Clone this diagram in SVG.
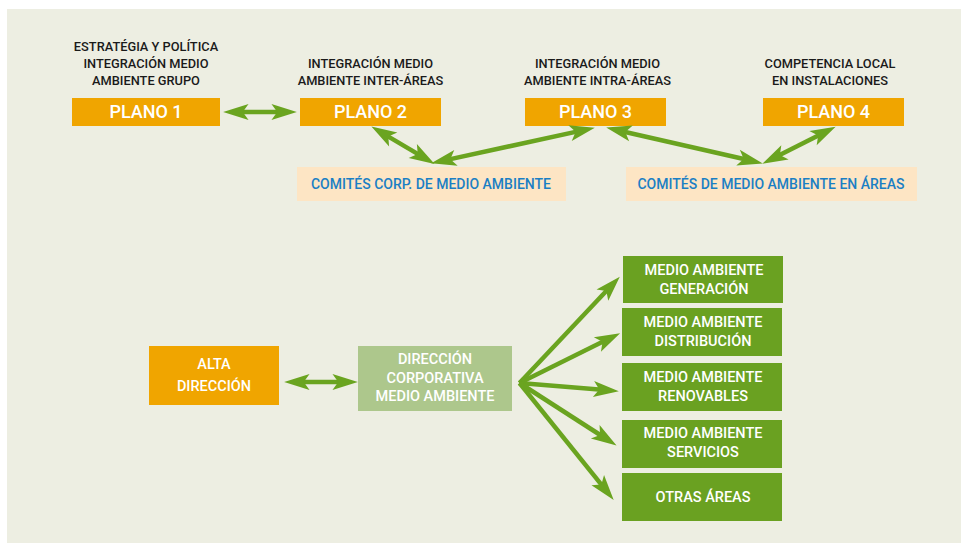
<svg xmlns="http://www.w3.org/2000/svg" width="961" height="543" viewBox="0 0 961 543">
  <style>
    text { font-family: Roboto, "Liberation Sans", Arial, sans-serif; font-weight: 500; text-anchor: middle; }
    .lbl { font-size: 12.8px; fill: #1a1a1a; }
    .plano { fill: #f0a500; }
    .ptxt { font-size: 18px; fill: #ffffff; }
    .com { fill: #fde5c4; }
    .ctxt { font-size: 14px; fill: #1b7fc4; }
    .wtxt { font-size: 14.5px; fill: #ffffff; }
    .area { fill: #6aa121; }
    .conn { stroke: #6aa420; stroke-width: 4.5; fill: none; }
  </style>
  <defs>
    <marker id="ah" markerUnits="userSpaceOnUse" markerWidth="30" markerHeight="20" viewBox="-12 -8 26 16" refX="0" refY="0" orient="auto-start-reverse">
      <path d="M12,0 L-10,-7 L-5,0 L-10,7 Z" fill="#6aa420"/>
    </marker>
  </defs>
  <rect x="7" y="9" width="954" height="534" fill="#edeee2"/>

  <g id="plano1">
    <text class="lbl" x="146" y="51">ESTRATÉGIA Y POLÍTICA</text>
    <text class="lbl" x="146" y="68">INTEGRACIÓN MEDIO</text>
    <text class="lbl" x="146" y="85">AMBIENTE GRUPO</text>
    <rect class="plano" x="72" y="98" width="148" height="28"/>
    <text class="ptxt" x="146" y="117.5">PLANO 1</text>
  </g>
  <g id="plano2">
    <text class="lbl" x="370.5" y="68">INTEGRACIÓN MEDIO</text>
    <text class="lbl" x="370.5" y="85">AMBIENTE INTER-ÁREAS</text>
    <rect class="plano" x="300" y="98" width="141" height="28"/>
    <text class="ptxt" x="370.5" y="117.5">PLANO 2</text>
  </g>
  <g id="plano3">
    <text class="lbl" x="597.5" y="68">INTEGRACIÓN MEDIO</text>
    <text class="lbl" x="597.5" y="85">AMBIENTE INTRA-ÁREAS</text>
    <rect class="plano" x="525" y="98" width="141" height="28"/>
    <text class="ptxt" x="595.5" y="117.5">PLANO 3</text>
  </g>
  <g id="plano4">
    <text class="lbl" x="830" y="68">COMPETENCIA LOCAL</text>
    <text class="lbl" x="830" y="85">EN INSTALACIONES</text>
    <rect class="plano" x="763" y="98" width="141" height="28"/>
    <text class="ptxt" x="833.5" y="117.5">PLANO 4</text>
  </g>
  <g id="comites-corp">
    <rect class="com" x="297" y="167" width="269" height="34"/>
    <text class="ctxt" x="431" y="188.5">COMITÉS CORP. DE MEDIO AMBIENTE</text>
  </g>
  <g id="comites-areas">
    <rect class="com" x="626" y="167" width="291" height="34"/>
    <text class="ctxt" x="771" y="188.5">COMITÉS DE MEDIO AMBIENTE EN ÁREAS</text>
  </g>

  <g id="alta-direccion">
    <rect class="plano" x="149" y="346" width="130" height="59"/>
    <text class="wtxt" x="214" y="369">ALTA</text>
    <text class="wtxt" x="214" y="390.5">DIRECCIÓN</text>
  </g>
  <g id="direccion-corporativa">
    <rect x="358" y="346" width="154" height="65" fill="#adc78c"/>
    <text class="wtxt" x="435" y="364">DIRECCIÓN</text>
    <text class="wtxt" x="435" y="382.5">CORPORATIVA</text>
    <text class="wtxt" x="435" y="400.5">MEDIO AMBIENTE</text>
  </g>
  <g id="ma-generacion">
    <rect class="area" x="623" y="256" width="160" height="47"/>
    <text class="wtxt" x="704" y="275">MEDIO AMBIENTE</text>
    <text class="wtxt" x="704" y="294">GENERACIÓN</text>
  </g>
  <g id="ma-distribucion">
    <rect class="area" x="622" y="308" width="160" height="48"/>
    <text class="wtxt" x="703" y="327.3">MEDIO AMBIENTE</text>
    <text class="wtxt" x="703" y="346">DISTRIBUCIÓN</text>
  </g>
  <g id="ma-renovables">
    <rect class="area" x="622" y="363" width="160" height="48"/>
    <text class="wtxt" x="703" y="382.3">MEDIO AMBIENTE</text>
    <text class="wtxt" x="703" y="400.7">RENOVABLES</text>
  </g>
  <g id="ma-servicios">
    <rect class="area" x="622" y="420" width="160" height="48"/>
    <text class="wtxt" x="703" y="438.3">MEDIO AMBIENTE</text>
    <text class="wtxt" x="703" y="456.7">SERVICIOS</text>
  </g>
  <g id="otras-areas">
    <rect class="area" x="622" y="473" width="160" height="48"/>
    <text class="wtxt" x="703" y="501.7">OTRAS ÁREAS</text>
  </g>

  <g id="connectors">
    <line class="conn" x1="237" y1="112" x2="283" y2="112" marker-start="url(#ah)" marker-end="url(#ah)"/>
    <line class="conn" x1="383.3" y1="133.6" x2="422.7" y2="156.9" marker-start="url(#ah)" marker-end="url(#ah)"/>
    <line class="conn" x1="444.7" y1="160.4" x2="581.3" y2="130.6" marker-start="url(#ah)" marker-end="url(#ah)"/>
    <line class="conn" x1="619.7" y1="130.7" x2="749.3" y2="160.3" marker-start="url(#ah)" marker-end="url(#ah)"/>
    <line class="conn" x1="774.7" y1="157.6" x2="823.3" y2="132.9" marker-start="url(#ah)" marker-end="url(#ah)"/>
    <line class="conn" x1="298" y1="382" x2="344" y2="382" marker-start="url(#ah)" marker-end="url(#ah)"/>
    <line class="conn" x1="519.5" y1="383" x2="610.3" y2="286.7" marker-end="url(#ah)"/>
    <line class="conn" x1="519.5" y1="383" x2="607.7" y2="339.3" marker-end="url(#ah)"/>
    <line class="conn" x1="519.5" y1="383" x2="605" y2="390" marker-end="url(#ah)"/>
    <line class="conn" x1="519.5" y1="383" x2="604.9" y2="438" marker-end="url(#ah)"/>
    <line class="conn" x1="519.5" y1="383" x2="605" y2="489.1" marker-end="url(#ah)"/>
  </g>
</svg>
